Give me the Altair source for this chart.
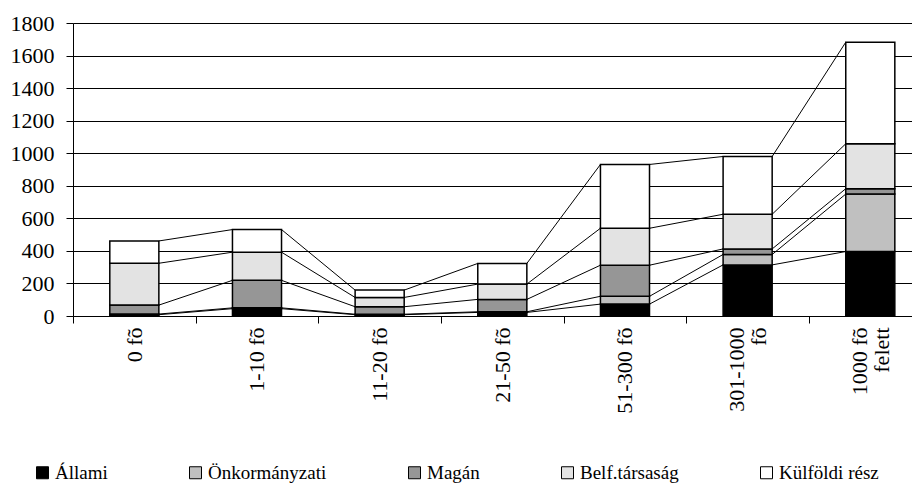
import json
import altair as alt
import pandas as pd

categories = ["0 fõ", "1-10 fõ", "11-20 fõ", "21-50 fõ", "51-300 fõ", "301-1000\nfõ", "1000 fõ\nfelett"]
series = ["Állami", "Önkormányzati", "Magán", "Belf.társaság", "Külföldi rész"]
allami = [8, 45, 8, 22, 73, 314, 396]
onkormanyzati = [4, 5, 3, 4, 48, 64, 353]
magan = [55, 169, 46, 76, 191, 34, 33]
belf = [257, 173, 57, 94, 227, 213, 276]
kulfoldi = [137, 139, 45, 127, 392, 355, 624]
colors = ["#000000", "#c0c0c0", "#969696", "#e3e3e3", "#ffffff"]
y_ticks = list(range(0, 1801, 200))

values = [allami, onkormanyzati, magan, belf, kulfoldi]

# stacked segments
bar_rows = []
cum = [[0] * len(categories) for _ in series]
for i in range(len(categories)):
    base = 0
    for k, (s, vals) in enumerate(zip(series, values)):
        bar_rows.append({"i": i, "series": s, "y0": base, "y1": base + vals[i]})
        base += vals[i]
        cum[k][i] = base
bars_df = pd.DataFrame(bar_rows)

# series lines between neighbouring bars
line_rows = []
for k in range(len(series)):
    for i in range(len(categories) - 1):
        line_rows.append({"i": i, "ya": cum[k][i], "yb": cum[k][i + 1]})
lines_df = pd.DataFrame(line_rows)

FONT = "Liberation Serif"
W = 839
XMAX = 6.34
step = W / (XMAX + 0.5)
half_bar = 0.2
LINE_H = 22

xscale = alt.Scale(domain=[-0.5, XMAX], nice=False, zero=False)
yscale = alt.Scale(domain=[0, 1800], nice=False, zero=True)

label_js = json.dumps(categories, ensure_ascii=False)
multi_idx = [i for i, c in enumerate(categories) if "\n" in c]
multi_test = " || ".join(f"datum.value == {i}" for i in multi_idx)

x_axis = alt.Axis(
    values=list(range(len(categories))),
    labelExpr=f"split({label_js}[datum.value], '\\n')",
    labelAngle=270,
    labelAlign="right",
    labelBaseline="middle",
    labelFont=FONT,
    labelFontSize=22,
    labelColor="#000000",
    labelPadding=4,
    labelLineHeight=LINE_H,
    labelOverlap=False,
    labelBound=False,
    tickOffset=-step / 2,
    labelOffset={"condition": {"test": multi_test, "value": step / 2 - LINE_H / 2}, "value": step / 2},
    tickSize=7,
    tickColor="#000000",
    domainColor="#000000",
    grid=False,
    title=None,
)

y_axis = alt.Axis(
    values=y_ticks,
    tickCount=10,
    format="d",
    labelOverlap=False,
    labelFont=FONT,
    labelFontSize=22,
    labelColor="#000000",
    labelPadding=12,
    tickSize=7,
    tickColor="#000000",
    domainColor="#000000",
    gridColor="#000000",
    gridWidth=1,
    gridOpacity=1,
    title=None,
)

bars = alt.Chart(bars_df).transform_calculate(
    xl=f"datum.i - {half_bar}", xr=f"datum.i + {half_bar}"
).mark_rect(stroke="#000000", strokeWidth=1.5).encode(
    x=alt.X("xl:Q", scale=xscale, axis=x_axis),
    x2="xr:Q",
    y=alt.Y("y0:Q", scale=yscale, axis=y_axis),
    y2="y1:Q",
    fill=alt.Fill(
        "series:N",
        scale=alt.Scale(domain=series, range=colors),
        sort=series,
        legend=alt.Legend(
            title=None,
            orient="none",
            direction="horizontal",
            legendX=-40,
            legendY=440,
            symbolType="square",
            symbolSize=144,
            symbolStrokeColor="#000000",
            symbolStrokeWidth=1,
            symbolOpacity=1,
            labelFont=FONT,
            labelFontSize=19,
            labelColor="#000000",
            columnPadding=78,
            labelOffset=3,
            labelLimit=300,
        ),
    ),
)

links = alt.Chart(lines_df).transform_calculate(
    xa=f"datum.i + {half_bar}", xb=f"datum.i + 1 - {half_bar}"
).mark_rule(color="#000000", strokeWidth=1).encode(
    x=alt.X("xa:Q", scale=xscale, axis=x_axis),
    x2="xb:Q",
    y=alt.Y("ya:Q", scale=yscale, axis=y_axis),
    y2="yb:Q",
)

chart = alt.layer(links, bars).properties(
    width=W,
    height=293,
    autosize=alt.AutoSizeParams(type="none"),
    padding={"left": 65, "top": 15, "right": 0, "bottom": 167},
).configure_view(stroke=None).configure(background="#ffffff")

chart.save("out.html", embed_options={"renderer": "svg", "actions": False})
